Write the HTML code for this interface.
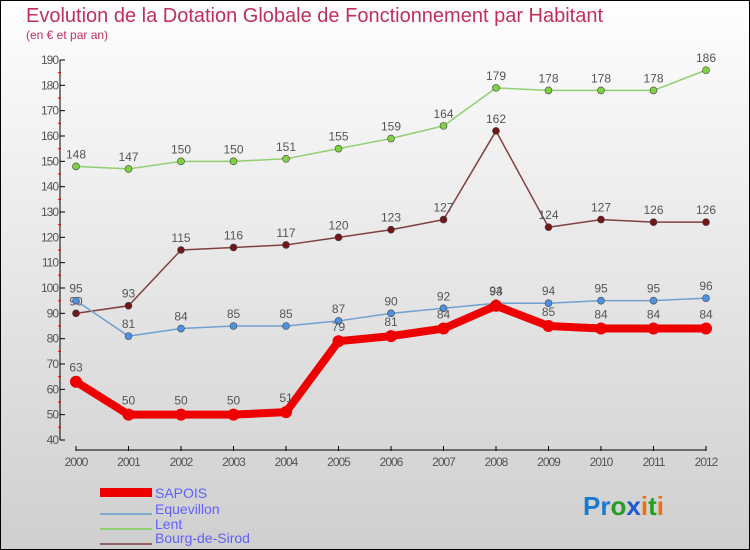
<!DOCTYPE html>
<html><head><meta charset="utf-8"><style>
body{margin:0;}
#c{width:750px;height:550px;position:relative;box-sizing:border-box;border:1px solid #000;background:linear-gradient(#fefefe,#cfcfcf);overflow:hidden;font-family:"Liberation Sans",sans-serif;}
</style></head><body>
<div id="c">
<svg id="s" width="750" height="550" style="position:absolute;left:-1px;top:-1px">
<text x="26" y="22" font-size="20" fill="#c0305a">Evolution de la Dotation Globale de Fonctionnement par Habitant</text>
<text x="26" y="39" font-size="12" fill="#c0305a">(en € et par an)</text>
<g id="axes"></g><g id="series"></g>
<g>
<rect x="100" y="488" width="52" height="9" fill="#e00"/>
<text x="155" y="498" font-size="14" fill="#6060ff">SAPOIS</text>
<line x1="100" y1="514" x2="152" y2="514" stroke="#80a8d0" stroke-width="2"/>
<text x="155" y="514" font-size="14" fill="#6060ff">Equevillon</text>
<line x1="100" y1="529" x2="152" y2="529" stroke="#90d070" stroke-width="2"/>
<text x="155" y="529" font-size="14" fill="#6060ff">Lent</text>
<line x1="100" y1="544" x2="152" y2="544" stroke="#906060" stroke-width="2"/>
<text x="155" y="543" font-size="14" fill="#6060ff">Bourg-de-Sirod</text>
</g>
<text x="583" y="515" font-size="26" font-weight="bold"><tspan fill="#1a7ad0">Pr</tspan><tspan fill="#2a9a2a">o</tspan><tspan fill="#1a5ad0">x</tspan><tspan fill="#f07010">i</tspan><tspan fill="#20a020">t</tspan><tspan fill="#f07010">i</tspan></text>
</svg>
</div>
<script>
const years=[2000,2001,2002,2003,2004,2005,2006,2007,2008,2009,2010,2011,2012];
const sapois=[63,50,50,50,51,79,81,84,93,85,84,84,84];
const equevillon=[95,81,84,85,85,87,90,92,94,94,95,95,96];
const lent=[148,147,150,150,151,155,159,164,179,178,178,178,186];
const bourg=[90,93,115,116,117,120,123,127,162,124,127,126,126];
const yTicks=[40,50,60,70,80,90,100,110,120,130,140,150,160,170,180,190];
const NS="http://www.w3.org/2000/svg";
function X(i){return 76+i*52.5;}
function Y(v){return 440-(v-40)*380/150;}
function mk(t,a,p){const e=document.createElementNS(NS,t);for(const k in a)e.setAttribute(k,a[k]);p.appendChild(e);return e;}
const ax=document.getElementById('axes');
let l=mk('line',{x1:60,y1:Y(190),x2:60,y2:Y(40),stroke:'#000','stroke-width':1},ax);


yTicks.forEach(v=>{
 mk('line',{x1:60,y1:Y(v),x2:65,y2:Y(v),stroke:'#000'},ax);
 if(v<190)mk('line',{x1:58,y1:Y(v+5),x2:61,y2:Y(v+5),stroke:'#e00'},ax);
 const t=mk('text',{x:58,y:Y(v)+4,'font-size':12,fill:'#555','text-anchor':'end','letter-spacing':'-1'},ax);t.textContent=v;
 
 
});
l=mk('line',{x1:X(0),y1:450,x2:X(12),y2:450,stroke:'#000'},ax);


years.forEach((y,i)=>{
 mk('line',{x1:X(i),y1:446,x2:X(i),y2:451,stroke:'#000'},ax);
 const t=mk('text',{x:X(i),y:466,'font-size':12,fill:'#555','text-anchor':'middle','letter-spacing':'-1'},ax);t.textContent=y;
 
 
});
const sg=document.getElementById('series');
function draw(data,name,color,w,r,dot,labOff){
 const g=mk('g',{},sg);
 
 
 mk('polyline',{points:data.map((v,i)=>X(i)+','+Y(v)).join(' '),fill:'none',stroke:color,'stroke-width':w,'stroke-linejoin':'round'},g);
 data.forEach((v,i)=>{
  const c=mk('circle',{cx:X(i),cy:Y(v),r:r,fill:dot,stroke:'#444','stroke-width':w>3?0:0.6},g);
  
  
  const t=mk('text',{x:X(i),y:Y(v)-labOff,'font-size':12,fill:'#555','text-anchor':'middle'},g);t.textContent=v;
  
  
 });
}
draw(lent,'lent','#90d070',1.5,3.5,'#80d040',8);
draw(bourg,'bourg-de-sirod','#804040',1.5,3.5,'#701818',8);
draw(equevillon,'equevillon','#70a0d0',1.5,3.5,'#5090e0',8);
draw(sapois,'sapois','#ee0000',8,6,'#ee0000',10);
</script>
</body></html>
